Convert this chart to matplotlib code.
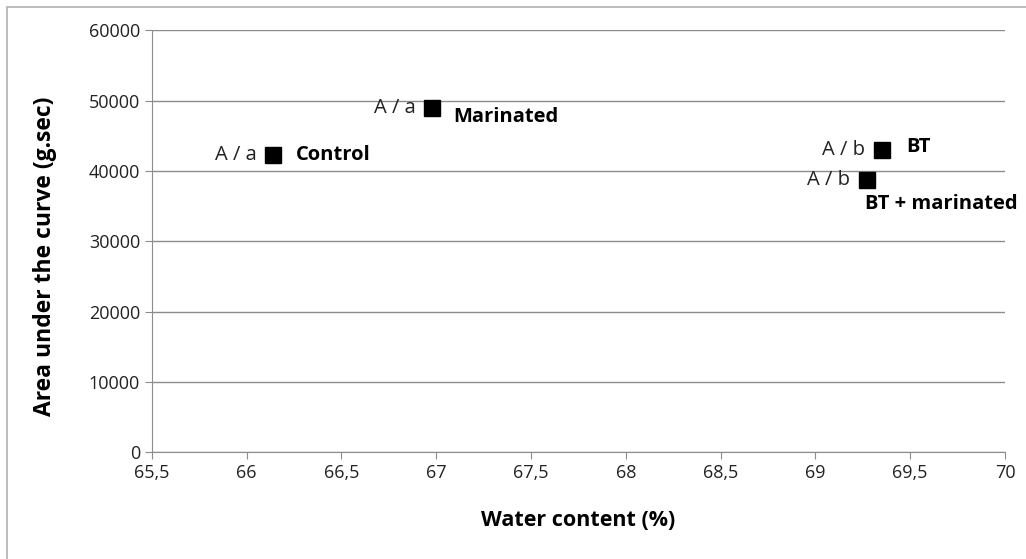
import matplotlib.pyplot as plt
import matplotlib.patches as patches

# data
names = ['Control', 'Marinated', 'BT', 'BT + marinated']
water = [66.14, 66.98, 69.35, 69.27]
area = [42300, 48900, 43000, 38700]
letters = ['A / a', 'A / a', 'A / b', 'A / b']

# label offsets in points: (letters), (name)
letter_off = [(-12, 0), (-12, 0), (-12, 0), (-12, 0)]
name_off = [(16, 0), (15, -6), (18, 2), (-1, -17)]

plt.rcParams['font.family'] = ['Open Sans', 'DejaVu Sans']

fig = plt.figure(figsize=(10.26, 5.59), dpi=100)
ax = fig.add_axes([0.148, 0.191, 0.8315, 0.755])

ax.plot(water, area, 's', color='black', markersize=11, linestyle='none', zorder=3)

for i in range(len(names)):
    ax.annotate(letters[i], (water[i], area[i]), xytext=letter_off[i],
                textcoords='offset points', ha='right', va='center',
                fontsize=14.5, color='#222222')
    ax.annotate(names[i], (water[i], area[i]), xytext=name_off[i],
                textcoords='offset points', ha='left', va='center',
                fontsize=14.5, fontweight='bold', color='black', annotation_clip=False)

ax.set_xlim(65.5, 70)
ax.set_ylim(0, 60000)
ax.set_xticks([65.5 + 0.5 * k for k in range(10)])
ax.set_xticklabels(['65,5', '66', '66,5', '67', '67,5', '68', '68,5', '69', '69,5', '70'])
ax.set_yticks(range(0, 60001, 10000))
ax.set_yticklabels([str(v) for v in range(0, 60001, 10000)])

ax.grid(axis='y', color='#8c8c8c', linewidth=1)
ax.set_axisbelow(True)
for s in ['top', 'right']:
    ax.spines[s].set_visible(False)
ax.spines['left'].set_color('#8c8c8c')
ax.spines['bottom'].set_color('#8c8c8c')
ax.tick_params(axis='both', colors='#8c8c8c', labelcolor='#222222', labelsize=13, length=5)

ax.set_xlabel('Water content (%)', fontsize=15.5, fontweight='bold')
ax.set_ylabel('Area under the curve (g.sec)', fontsize=16.5, fontweight='bold')
ax.xaxis.set_label_coords(0.5, -0.161)
ax.yaxis.set_label_coords(-0.125, 0.464)
ax.xaxis.label.set_va('center')
ax.yaxis.label.set_va('center')

# outer frame like the original chart area
fig.patches.append(patches.Rectangle((0.007, -0.01), 1.1, 0.998, transform=fig.transFigure,
                                     fill=False, edgecolor='#b0b0b0', linewidth=1.2))

fig.savefig('out.png', dpi=100)
